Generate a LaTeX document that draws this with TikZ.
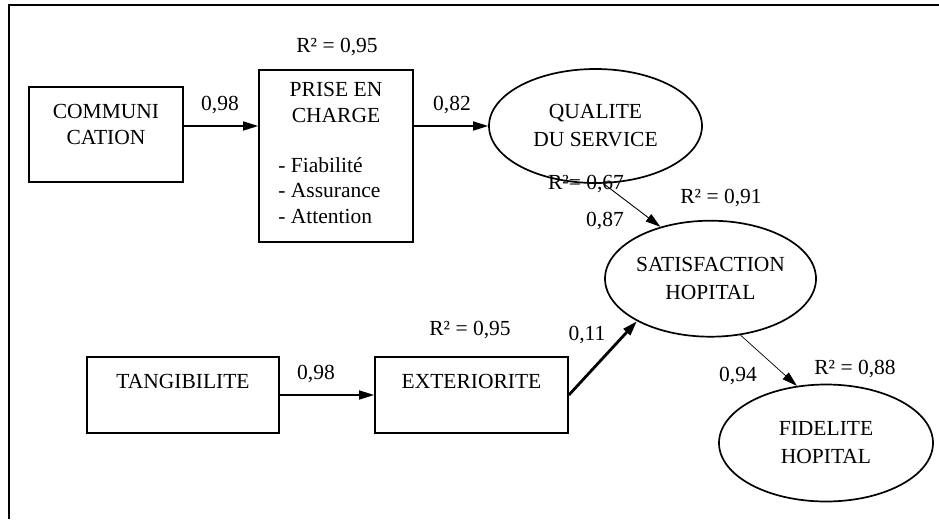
\documentclass[tikz,border=0pt]{standalone}
\usepackage{fontspec}
\setmainfont{Liberation Serif}
\usetikzlibrary{shapes.geometric,arrows.meta,positioning}
\newcommand{\boxline}{1.7pt}
\newcommand{\txtsize}{\fontsize{21.5}{25.5}\selectfont}
\tikzset{
  construct/.style={draw, rectangle, line width=\boxline, inner sep=0pt},
  latent/.style={draw, ellipse, line width=\boxline, inner xsep=-6pt, inner ysep=0pt,
    align=center, font=\fontsize{21.5}{28}\selectfont},
  coef/.style={inner sep=0pt, text depth=0pt, font=\txtsize},
  path/.style={line width=1.4pt, -{Triangle[length=15pt,width=9pt]}},
}

\begin{document}
\begin{tikzpicture}[x=1pt, y=-1pt]
\useasboundingbox (0,0) rectangle (939,519);
\draw[line width=2pt] (9,519) -- (9,5) -- (939,5);
% boxes
\node[construct, minimum width=154, minimum height=95] (comm) at (106,134.5) {};
\node[construct, minimum width=154, minimum height=172] (prise) at (336,156) {};
\node[construct, minimum width=192, minimum height=76] (tang) at (183,395) {};
\node[construct, minimum width=193, minimum height=76] (ext) at (471.5,395) {};
\node[coef, align=center, below=18pt of comm.north] (commtxt) {COMMUNI\\CATION};
\node[coef, align=center, below=13pt of prise.north] (prisetxt) {PRISE EN\\CHARGE};
\node[coef, align=left, anchor=north west] (dims) at ([xshift=20, yshift=-88]prise.north west) {- Fiabilité\\- Assurance\\- Attention};
\node[coef, below=18pt of tang.north] (tangtxt) {TANGIBILITE};
\node[coef, below=18pt of ext.north] (exttxt) {EXTERIORITE};
% ellipses
\node[latent, minimum width=213, minimum height=114] (qual) at (595.5,126) {QUALITE\\DU SERVICE};
\node[latent, minimum width=211, minimum height=116] (satis) at (710.5,278.7) {SATISFACTION\\HOPITAL};
\node[latent, minimum width=214, minimum height=117] (fid) at (826,443) {FIDELITE\\HOPITAL};
% paths
\draw[path] (comm.east |- qual.west) -- (prise.west |- qual.west);
\draw[path] (prise.east |- qual.west) -- (qual.west);
\draw[path] (tang) -- (ext);
\draw[path, line width=2.8pt] (ext.east) -- (satis.210);
\draw[path, line width=0.9pt] (qual.-82) -- (satis.134);
\draw[path, line width=0.7pt] (satis.-62) -- (fid.117);
% coefficients
\node[coef] (r2prise) at (337,45) {R² = 0,95};
\node[coef] (b1) at (220,103) {0,98};
\node[coef] (b2) at (452,103) {0,82};
\node[coef] (r2qual) at (586,182) {R²= 0,67};
\node[coef] (b3) at (605,219) {0,87};
\node[coef] (r2satis) at (721,196) {R² = 0,91};
\node[coef] (r2ext) at (470,328) {R² = 0,95};
\node[coef] (b4) at (316,372) {0,98};
\node[coef] (b5) at (587,333) {0,11};
\node[coef] (b6) at (738,374) {0,94};
\node[coef] (r2fid) at (855,367) {R² = 0,88};
\end{tikzpicture}
\end{document}
